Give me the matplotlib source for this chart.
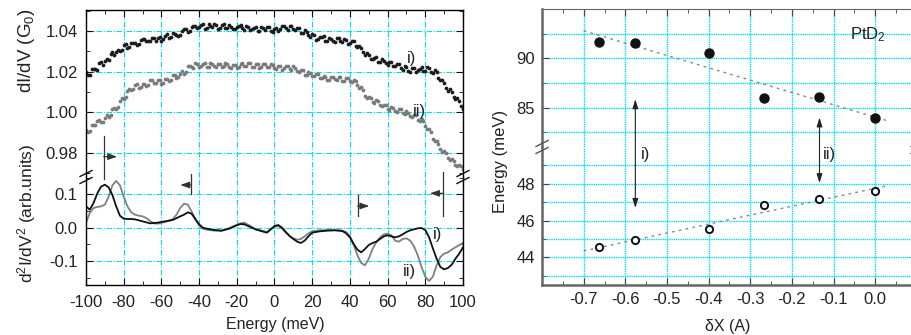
import matplotlib.pyplot as plt
import numpy as np

plt.rcParams['font.family'] = ['Liberation Sans', 'DejaVu Sans']
plt.rcParams['mathtext.fontset'] = 'custom'
plt.rcParams['mathtext.rm'] = 'Liberation Sans'
plt.rcParams['mathtext.it'] = 'Liberation Sans:italic'
plt.rcParams['font.size'] = 12

# ---- left panel: dI/dV point data (even and odd meV) ----
energy_even = np.arange(-100, 101, 2)
didv_i = [1.0200, 1.0186, 1.0215, 1.0211, 1.0248, 1.0252, 1.0259, 1.0298, 1.0296, 1.0303,
          1.0330, 1.0317, 1.0341, 1.0341, 1.0337, 1.0364, 1.0350, 1.0350, 1.0367, 1.0365,
          1.0353, 1.0379, 1.0367, 1.0393, 1.0382, 1.0381, 1.0411, 1.0398, 1.0419, 1.0428,
          1.0419, 1.0438, 1.0415, 1.0427, 1.0434, 1.0412, 1.0429, 1.0418, 1.0431, 1.0412,
          1.0423, 1.0430, 1.0404, 1.0422, 1.0411, 1.0423, 1.0400, 1.0415, 1.0422, 1.0403,
          1.0412, 1.0402, 1.0428, 1.0414, 1.0428, 1.0411, 1.0416, 1.0391, 1.0405, 1.0382,
          1.0384, 1.0359, 1.0370, 1.0375, 1.0352, 1.0362, 1.0346, 1.0365, 1.0348, 1.0357,
          1.0340, 1.0352, 1.0321, 1.0318, 1.0283, 1.0285, 1.0262, 1.0273, 1.0249, 1.0253,
          1.0234, 1.0249, 1.0229, 1.0238, 1.0211, 1.0222, 1.0201, 1.0218, 1.0207, 1.0221,
          1.0203, 1.0218, 1.0195, 1.0201, 1.0157, 1.0145, 1.0106, 1.0102, 1.0065, 1.0056,
          1.0016]
didv_ii = [0.9913, 0.9908, 0.9938, 0.9956, 0.9951, 0.9973, 0.9975, 1.0015, 1.0015, 1.0057,
           1.0066, 1.0106, 1.0112, 1.0135, 1.0118, 1.0139, 1.0132, 1.0158, 1.0146, 1.0158,
           1.0139, 1.0163, 1.0154, 1.0182, 1.0171, 1.0187, 1.0190, 1.0227, 1.0222, 1.0241,
           1.0225, 1.0237, 1.0221, 1.0241, 1.0229, 1.0239, 1.0222, 1.0242, 1.0223, 1.0231,
           1.0217, 1.0238, 1.0228, 1.0243, 1.0224, 1.0238, 1.0219, 1.0236, 1.0224, 1.0237,
           1.0217, 1.0227, 1.0211, 1.0229, 1.0213, 1.0228, 1.0203, 1.0208, 1.0185, 1.0198,
           1.0179, 1.0190, 1.0168, 1.0179, 1.0158, 1.0174, 1.0163, 1.0176, 1.0156, 1.0167,
           1.0152, 1.0159, 1.0135, 1.0123, 1.0079, 1.0075, 1.0051, 1.0060, 1.0036, 1.0038,
           1.0014, 1.0025, 1.0005, 1.0018, 0.9996, 1.0004, 0.9979, 0.9988, 0.9962, 0.9965,
           0.9932, 0.9919, 0.9870, 0.9857, 0.9816, 0.9808, 0.9773, 0.9770, 0.9739, 0.9740,
           0.9720]
energy_odd = np.arange(-99, 100, 2)
didv_i_odd = [1.0185, 1.0214, 1.0215, 1.0242, 1.0232, 1.0264, 1.0286, 1.0283, 1.0307, 1.0309,
              1.0337, 1.0324, 1.0341, 1.0331, 1.0355, 1.0363, 1.0350, 1.0365, 1.0350, 1.0373,
              1.0364, 1.0384, 1.0370, 1.0386, 1.0378, 1.0403, 1.0409, 1.0402, 1.0428, 1.0418,
              1.0432, 1.0413, 1.0436, 1.0422, 1.0430, 1.0415, 1.0435, 1.0415, 1.0422, 1.0409,
              1.0428, 1.0414, 1.0427, 1.0406, 1.0417, 1.0403, 1.0419, 1.0405, 1.0421, 1.0398,
              1.0417, 1.0411, 1.0427, 1.0408, 1.0425, 1.0407, 1.0418, 1.0393, 1.0394, 1.0370,
              1.0381, 1.0364, 1.0374, 1.0351, 1.0366, 1.0352, 1.0369, 1.0351, 1.0361, 1.0338,
              1.0350, 1.0325, 1.0329, 1.0298, 1.0295, 1.0265, 1.0270, 1.0250, 1.0264, 1.0242,
              1.0246, 1.0227, 1.0238, 1.0219, 1.0228, 1.0206, 1.0218, 1.0198, 1.0214, 1.0205,
              1.0221, 1.0199, 1.0207, 1.0170, 1.0159, 1.0119, 1.0113, 1.0076, 1.0070, 1.0029]
didv_ii_odd = [0.9904, 0.9936, 0.9935, 0.9961, 0.9954, 0.9984, 0.9987, 1.0022, 1.0027, 1.0069,
               1.0077, 1.0115, 1.0114, 1.0139, 1.0123, 1.0141, 1.0134, 1.0157, 1.0145, 1.0161,
               1.0146, 1.0166, 1.0157, 1.0183, 1.0175, 1.0202, 1.0201, 1.0229, 1.0218, 1.0240,
               1.0229, 1.0243, 1.0224, 1.0237, 1.0221, 1.0240, 1.0227, 1.0239, 1.0219, 1.0234,
               1.0222, 1.0242, 1.0228, 1.0241, 1.0222, 1.0236, 1.0222, 1.0238, 1.0221, 1.0233,
               1.0214, 1.0230, 1.0217, 1.0229, 1.0208, 1.0218, 1.0200, 1.0209, 1.0183, 1.0193,
               1.0177, 1.0189, 1.0167, 1.0176, 1.0158, 1.0175, 1.0161, 1.0174, 1.0154, 1.0169,
               1.0149, 1.0155, 1.0122, 1.0111, 1.0070, 1.0070, 1.0047, 1.0055, 1.0029, 1.0037,
               1.0012, 1.0021, 1.0003, 1.0014, 0.9990, 0.9998, 0.9976, 0.9985, 0.9958, 0.9956,
               0.9916, 0.9901, 0.9856, 0.9845, 0.9805, 0.9799, 0.9764, 0.9761, 0.9733, 0.9736]

# ---- left panel: d2I/dV2 curves ----
energy_c_i = [-100, -98, -96, -94, -92, -90, -88, -86, -84, -82, -80, -78, -76, -74, -72, -70,
              -66, -62, -58, -54, -50, -48, -46, -44, -42, -40, -38, -36, -32, -28, -24, -20,
              -18, -16, -14, -10, -6, -4, -2, 0, 2, 4, 6, 8, 10, 12, 14, 16, 18, 20, 24, 28,
              32, 36, 38, 40, 42, 44, 46, 48, 50, 52, 54, 56, 58, 60, 62, 64, 66, 68, 70, 72,
              74, 76, 78, 80, 82, 84, 86, 88, 90, 92, 94, 96, 98, 100]
d2_i = [0.064, 0.054, 0.074, 0.103, 0.123, 0.129, 0.121, 0.098, 0.064, 0.036, 0.027, 0.026,
        0.026, 0.025, 0.022, 0.019, 0.013, 0.015, 0.019, 0.023, 0.034, 0.039, 0.046, 0.042,
        0.026, 0.010, 0.000, -0.003, -0.007, -0.009, -0.003, 0.007, 0.011, 0.010, 0.005,
        -0.005, -0.012, -0.015, -0.005, 0.005, 0.008, 0.000, -0.013, -0.025, -0.034, -0.042,
        -0.046, -0.039, -0.026, -0.015, -0.011, -0.009, -0.008, -0.010, -0.017, -0.029,
        -0.049, -0.066, -0.074, -0.064, -0.052, -0.046, -0.042, -0.034, -0.026, -0.023,
        -0.026, -0.029, -0.026, -0.020, -0.013, -0.008, -0.005, -0.002, -0.001, -0.007,
        -0.029, -0.062, -0.093, -0.118, -0.125, -0.121, -0.111, -0.093, -0.078, -0.059]
energy_c_ii = [-100, -98, -96, -94, -92, -90, -88, -86, -84, -82, -80, -78, -76, -74, -72, -70,
               -68, -66, -64, -62, -58, -54, -52, -50, -48, -46, -44, -42, -40, -38, -36, -32,
               -28, -24, -20, -18, -16, -14, -10, -6, -4, -2, 0, 2, 4, 6, 8, 10, 12, 14, 16,
               18, 20, 24, 28, 32, 36, 38, 40, 42, 44, 46, 48, 50, 52, 54, 56, 58, 60, 62, 64,
               66, 68, 70, 72, 74, 76, 78, 80, 82, 84, 86, 88, 90, 92, 94, 96, 98, 100]
d2_ii = [0.015, 0.044, 0.059, 0.062, 0.064, 0.069, 0.093, 0.127, 0.140, 0.127, 0.093, 0.064,
         0.046, 0.039, 0.036, 0.034, 0.029, 0.020, 0.013, 0.012, 0.017, 0.025, 0.039, 0.059,
         0.072, 0.069, 0.049, 0.025, 0.007, -0.003, -0.006, -0.009, -0.009, -0.001, 0.009,
         0.013, 0.015, 0.009, -0.005, -0.010, -0.013, -0.005, 0.002, 0.005, -0.003, -0.015,
         -0.025, -0.032, -0.036, -0.034, -0.026, -0.017, -0.011, -0.008, -0.007, -0.007,
         -0.009, -0.013, -0.025, -0.052, -0.083, -0.106, -0.113, -0.093, -0.064, -0.044,
         -0.029, -0.020, -0.018, -0.023, -0.039, -0.042, -0.034, -0.032, -0.039, -0.056,
         -0.083, -0.118, -0.147, -0.160, -0.147, -0.113, -0.088, -0.078, -0.074, -0.066,
         -0.059, -0.052, -0.046]

# onset markers: (bar x, bar y0, bar y1, arrow y, arrow tip x)
onset_marks = [(-90.6, 0.145, 0.274, 0.213, -83.5),
               (-44.5, 0.102, 0.160, 0.128, -50.0),
               (44.1, 0.034, 0.097, 0.065, 50.3),
               (89.6, 0.035, 0.167, 0.103, 82.5)]

# ---- right panel: phonon energies vs dX ----
dx = [-0.664, -0.576, -0.398, -0.267, -0.134, 0.0]
e_high = [91.66, 91.53, 90.54, 85.95, 86.09, 83.91]
e_low = [44.55, 44.94, 45.52, 46.84, 47.17, 47.60]
fit_range = [-0.70, 0.03]

W, H = 912, 335
fig = plt.figure(figsize=(W / 100, H / 100), dpi=100)

def box(x0, y0, x1, y1):
    return [x0 / W, 1 - y1 / H, (x1 - x0) / W, (y1 - y0) / H]

grid_c = '#00e1f0'
txt_c = '#222222'

axu = fig.add_axes(box(86, 10, 463, 177))
axl = fig.add_axes(box(86, 177, 463, 285))
axr_u = fig.add_axes(box(542, 9, 917, 147))
axr_l = fig.add_axes(box(542, 147, 917, 285))

# left upper
for xs, ys, c in [(energy_even, didv_i, '#1c1c1c'), (energy_odd, didv_i_odd, '#1c1c1c'),
                  (energy_even, didv_ii, '#7a7a7a'), (energy_odd, didv_ii_odd, '#7a7a7a')]:
    axu.plot(xs, ys, 'o', color=c, ms=2.7, mew=0)
axu.set_xlim(-100, 100)
axu.set_ylim(0.968, 1.0505)
axu.set_yticks([0.98, 1.00, 1.02, 1.04])
axu.set_yticklabels(['0.98', '1.00', '1.02', '1.04'])
axu.set_yticks(np.arange(0.97, 1.051, 0.01), minor=True)
axu.text(70.3, 1.0264, 'i)', va='center', ha='left', color=txt_c)
axu.text(73.3, 1.0006, 'ii)', va='center', ha='left', color=txt_c)

# left lower
axl.plot(energy_c_ii, d2_ii, color='#808080', lw=1.3)
axl.plot(energy_c_i, d2_i, color='#111111', lw=1.3)
axl.set_xlim(-100, 100)
axl.set_ylim(-0.172, 0.152)
axl.set_yticks([-0.1, 0.0, 0.1])
axl.set_yticklabels(['-0.1', '0.0', '0.1'])
axl.set_yticks([-0.15, -0.05, 0.05, 0.15], minor=True)
axl.text(84.2, -0.0216, 'i)', va='center', ha='left', color=txt_c)
axl.text(68.3, -0.131, 'ii)', va='center', ha='left', color=txt_c)
for xb, y0, y1, ya, xt in onset_marks:
    axl.plot([xb, xb], [y0, y1], color='#333333', lw=0.9, clip_on=False, zorder=5)
    axl.annotate('', xy=(xt, ya), xytext=(xb, ya), annotation_clip=False,
                 arrowprops=dict(arrowstyle='-|>,head_length=0.45,head_width=0.16',
                                 color='#333333', lw=0.9, shrinkA=0, shrinkB=0))

for ax in (axu, axl):
    ax.set_xticks(np.arange(-100, 101, 20))
    ax.set_xticks(np.arange(-100, 101, 10), minor=True)
    ax.grid(True, which='major', color=grid_c, ls=(0, (5, 1.5, 1, 1.5)), lw=0.8)
    ax.tick_params(which='both', direction='in', right=True, top=True,
                   labelsize=12, colors='#111111', labelcolor=txt_c)
    ax.tick_params(which='major', length=5, pad=6)
    ax.tick_params(which='minor', length=3)
    for s in ax.spines.values():
        s.set_linewidth(1.0)
axu.spines['bottom'].set_visible(False)
axu.tick_params(which='both', bottom=False, labelbottom=False)
axl.spines['top'].set_visible(False)
axl.tick_params(which='both', top=False)
axl.set_xticklabels([str(v) for v in range(-100, 101, 20)])
axl.tick_params(axis='x', pad=7)

# right upper / lower
fit_x = np.array(fit_range)
axr_u.plot(dx, e_high, 'o', color='#111111', ms=6.5, zorder=4)
p_hi = np.polyfit(dx, e_high, 1)
axr_u.plot(fit_x, np.polyval(p_hi, fit_x), color='#888888', lw=1.0, ls=(0, (2, 3)))
axr_u.set_ylim(81, 95)
axr_u.set_yticks([85, 90])
axr_u.set_yticks([82.5, 87.5, 92.5], minor=True)
axr_u.text(-0.061, 92.43, r'PtD$\mathregular{_2}$', va='center', ha='left', color=txt_c)

axr_l.plot(dx, e_low, 'o', mfc='white', mec='#111111', mew=1.4, ms=5.2, zorder=4)
p_lo = np.polyfit(dx, e_low, 1)
axr_l.plot(fit_x, np.polyval(p_lo, fit_x), color='#888888', lw=1.0, ls=(0, (2, 3)))
axr_l.set_ylim(42.5, 50)
axr_l.set_yticks([44, 46, 48])
axr_l.set_yticks([43, 45, 47, 49], minor=True)
axr_l.text(-0.563, 49.57, 'i)', va='center', ha='left', color=txt_c)
axr_l.text(-0.125, 49.57, 'ii)', va='center', ha='left', color=txt_c)

for ax in (axr_u, axr_l):
    ax.set_xlim(-0.8, 0.1)
    ax.set_xticks(np.round(np.arange(-0.7, 0.01, 0.1), 1))
    ax.set_xticks(np.round(np.arange(-0.75, 0.1, 0.1), 2), minor=True)
    ax.grid(True, axis='x', which='major', color=grid_c, ls=(0, (1, 0.6)), lw=1.0)
    ax.grid(True, axis='y', which='both', color=grid_c, ls=(0, (1, 0.6)), lw=1.0)
    ax.tick_params(which='both', direction='in', right=True, top=True,
                   labelsize=12, colors='#444444', labelcolor=txt_c)
    ax.tick_params(which='major', length=5, pad=5)
    ax.tick_params(which='minor', length=3)
    for s in ax.spines.values():
        s.set_color('#666666')
    ax.spines['left'].set_linewidth(1.8)
    ax.spines['bottom'].set_linewidth(1.8)
axr_u.spines['bottom'].set_visible(False)
axr_u.tick_params(which='both', bottom=False, labelbottom=False)
axr_l.spines['top'].set_visible(False)
axr_l.tick_params(which='both', top=False)
axr_l.set_xticklabels(['-0.7', '-0.6', '-0.5', '-0.4', '-0.3', '-0.2', '-0.1', '0.0'])

# double arrows across the break (drawn from the lower axes so nothing covers them)
for xa, yt, yb in [(-0.576, 85.84, 46.69), (-0.134, 83.99, 48.04)]:
    axr_l.annotate('', xy=(xa, yb), xycoords='data', xytext=(xa, yt),
                   textcoords=axr_u.transData, annotation_clip=False,
                   arrowprops=dict(arrowstyle='<|-|>,head_length=0.45,head_width=0.14',
                                   color='#222222', lw=0.8, shrinkA=0, shrinkB=0))

# axis break marks
def break_mark(xp, yp, color):
    for dy in (-3.5, 3.5):
        fig.add_artist(plt.Line2D([(xp - 6) / W, (xp + 6) / W],
                                  [1 - (yp + dy + 3) / H, 1 - (yp + dy - 3) / H],
                                  color=color, lw=1.0))

break_mark(86, 177, '#111111')
break_mark(463, 177, '#111111')
break_mark(542, 147, '#555555')
break_mark(917, 147, '#555555')

# axis labels
fig.text(27 / W, 1 - 51 / H, r'dI/dV (G$\mathregular{_0}$)', rotation=90,
         ha='center', va='center', fontsize=13.5, color=txt_c)
fig.text(27 / W, 1 - 213 / H, r'd$\mathregular{^2}$I/dV$\mathregular{^2}$ (arb.units)',
         rotation=90, ha='center', va='center', fontsize=12.5, color=txt_c)
fig.text(275 / W, 1 - 325 / H, 'Energy (meV)', ha='center', va='center', fontsize=11.5,
         color=txt_c)
fig.text(500 / W, 1 - 161 / H, 'Energy (meV)', rotation=90, ha='center', va='center',
         fontsize=12, color=txt_c)
fig.text(728 / W, 1 - 326 / H, 'δX (A)', ha='center', va='center', fontsize=11.5,
         color=txt_c)

fig.savefig('out.png', dpi=100)
